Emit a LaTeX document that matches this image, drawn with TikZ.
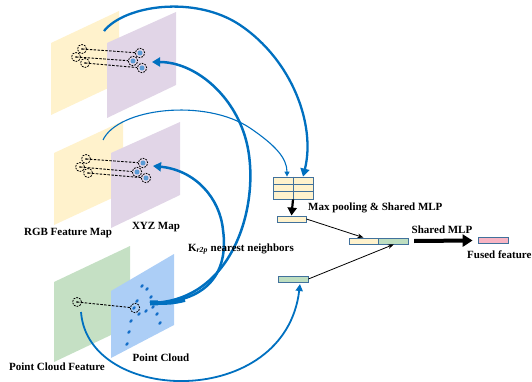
\documentclass[tikz,border=0pt]{standalone}
\usepackage{fontspec}
\setmainfont{Liberation Serif}
\usetikzlibrary{arrows.meta}
\definecolor{arcblue}{RGB}{0,112,192}
\definecolor{pyellow}{RGB}{255,242,204}
\definecolor{ppurple}{RGB}{225,213,231}
\definecolor{pgreen}{RGB}{197,224,196}
\definecolor{pblue}{RGB}{172,206,246}
\definecolor{bborder}{RGB}{65,113,156}
\definecolor{bgreen}{RGB}{190,222,192}
\definecolor{bpink}{RGB}{248,180,195}
\definecolor{dotblue}{RGB}{91,155,213}
\definecolor{pcdot}{RGB}{20,110,200}
\begin{document}
\begin{tikzpicture}[x=1pt,y=-1pt,
  lbl/.style={font=\fontsize{11}{13}\selectfont\bfseries, inner sep=0pt},
  feat/.style={draw=bborder, line width=0.8pt, inner sep=0pt, minimum height=6pt},
  srccirc/.style={circle, draw, dash pattern=on 1.8pt off 1.1pt, line width=0.8pt, minimum size=9pt, inner sep=0pt},
  dstcirc/.style={srccirc, minimum size=9.5pt},
  link/.style={dash pattern=on 2.5pt off 1.4pt, line width=0.9pt},
  thickarc/.style={draw=arcblue, line width=2.5pt, -{Triangle[width=9pt,length=8pt]}},
  thinarc/.style={draw=arcblue, line width=1.1pt, -{Triangle[width=5pt,length=5pt]}},
  pcpt/.style={fill=pcdot},
]
\useasboundingbox (0,0) rectangle (532,382);
% planes
\fill[pyellow] (51,43) -- (119,11) -- (119,83) -- (51,115) -- cycle;
\fill[ppurple] (107,43) -- (176,12) -- (176,85) -- (107,118) -- cycle;
\fill[pyellow] (54,153) -- (123,121) -- (123,193) -- (54,225) -- cycle;
\fill[ppurple] (111,153) -- (180,122) -- (180,195) -- (111,228) -- cycle;
\fill[pgreen] (54,282) -- (130,246) -- (130,326) -- (54,362) -- cycle;
\fill[pblue] (111,291) -- (174,254) -- (174,325) -- (111,358) -- cycle;
% top correspondences
\foreach \n/\ax/\ay/\bx/\by in {t1/82/49/140/53, t2/76/57/133/61, t3/85/63/142/68,
                                m1/86/159/143/163, m2/80/167/137/172, m3/88/173/146/178}{
  \node[srccirc] (a\n) at (\ax,\ay) {};
  \node[dstcirc] (b\n) at (\bx,\by) {};
  \fill[dotblue] (b\n.center) circle (2.5);
  \fill (a\n.center) circle (0.9);
  \draw[link] (a\n.center) -- (b\n);
}
% point cloud dots
\foreach \px/\py in {142/286,147/289,137/301,151/297,153/307,146/311,139/314,157/314,131/321,160/323,129/332,127/344,134/308}{
  \fill[pcpt, rotate around={-35:(\px,\py)}] (\px,\py) ellipse (1.3 and 2.1);
}
\node[srccirc] (apc) at (77,302) {};
\node[dstcirc] (bpc) at (135,308) {};
\fill (apc.center) circle (0.9);
\draw[link] (apc.center) -- (bpc);
% boxes
\node[feat, fill=pyellow, minimum width=40pt, minimum height=22pt] (tbl) at (293,188) {};
\draw[bborder, line width=0.8pt] (tbl.north) -- (tbl.south)
  (273,184.3) -- (313,184.3) (273,191.7) -- (313,191.7);
\node[feat, fill=pyellow, minimum width=29pt] (mp) at (291.5,219) {};
\node[feat, fill=pyellow, minimum width=29pt] (cy) at (363.5,241) {};
\node[feat, fill=bgreen, minimum width=30pt, anchor=west] (cg) at (cy.east) {};
\node[feat, fill=bpink, minimum width=30pt] (fu) at (493,240.5) {};
\node[feat, fill=bgreen, minimum width=30pt] (pf) at (293,279) {};
% coordinates for arcs
\coordinate (s1) at (104,31);
\coordinate (s2) at (103,140);
\coordinate (s3) at (150,303);
\coordinate (s4) at (81,312);
\coordinate (e1) at ([xshift=10pt]tbl.north);
\coordinate (e2) at ([xshift=-6pt]tbl.north);
\coordinate (t1) at (152,62);
\coordinate (t2) at (153,166);
\coordinate (t4) at (300,284);
% arcs
\draw[thickarc, line width=2.3pt] (s1) .. controls (125,5) and (195,-5) .. (240,25) .. controls (292,60) and (316,125) .. (e1);
\draw[thinarc] (s2) .. controls (118,108) and (205,98) .. (250,128) .. controls (275,145) and (287,158) .. (e2);
\draw[thickarc] (s3) .. controls (235,302) and (262,200) .. (246,140) .. controls (234,95) and (195,62) .. (t1);
\draw[thickarc] (s3) .. controls (215,303) and (228,265) .. (223,230) .. controls (220,198) and (195,170) .. (t2);
\draw[arcblue, line width=5pt] (s3) -- (158,302.8);
\draw[arcblue, line width=3.8pt] (s3) .. controls (172,303) .. (185,300);
\draw[draw=arcblue, line width=1.8pt, -{Triangle[width=7pt,length=7pt]}] (s4) .. controls (88,405) and (285,410) .. (t4);
% black arrows
\draw[line width=2.2pt, -{Triangle[width=9pt,length=8pt]}] (tbl.south) -- (mp.north);
\draw[line width=0.8pt, -{Stealth[length=6pt,width=4.5pt]}] (mp.east) -- (cy.north);
\draw[line width=0.8pt, -{Stealth[length=6pt,width=4.5pt]}] (pf.east) -- (cg.south);
\draw[line width=4pt, -{Triangle[width=12pt,length=10pt]}] ([xshift=5pt]cg.east) -- ([xshift=-5pt]fu.west);
% labels
\node[lbl] (lrgb) at (68,233) {RGB Feature Map};
\node[lbl] (lxyz) at (156,227) {XYZ Map};
\node[lbl] (lknn) at (241,249) {K\textsubscript{\itshape r2p} nearest neighbors};
\node[lbl, anchor=west] (lmax) at (308,208) {Max pooling \& Shared MLP};
\node[lbl] (lsh) at (442,230) {Shared MLP};
\node[lbl, anchor=west] (lfus) at (467,255) {Fused feature};
\node[lbl] (lpcf) at (57,367) {Point Cloud Feature};
\node[lbl] (lpc) at (161,358) {Point Cloud};
\end{tikzpicture}
\end{document}
